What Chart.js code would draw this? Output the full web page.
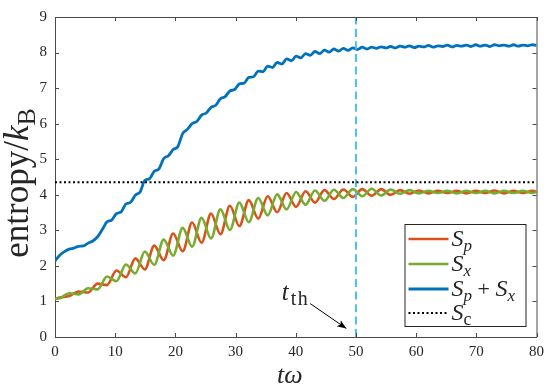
<!DOCTYPE html>
<html>
<head>
<meta charset="utf-8">
<script src="https://cdn.jsdelivr.net/npm/chart.js@4.4.1/dist/chart.umd.min.js"></script>
<style>
  html, body { margin: 0; padding: 0; background: #fff; }
  canvas { display: block; }
</style>
</head>
<body>
<canvas id="chart" width="550" height="389"></canvas>
<script>
// sample times (t*omega), quarter-period grid
const tw = [
  0, 0.79, 1.57, 2.36, 3.14, 3.93, 4.71, 5.50, 6.28, 7.07,
  7.85, 8.64, 9.42, 10.21, 11.00, 11.78, 12.57, 13.35, 14.14, 14.92,
  15.71, 16.49, 17.28, 18.06, 18.85, 19.63, 20.42, 21.21, 21.99, 22.78,
  23.56, 24.35, 25.13, 25.92, 26.70, 27.49, 28.27, 29.06, 29.85, 30.63,
  31.42, 32.20, 32.99, 33.77, 34.56, 35.34, 36.13, 36.91, 37.70, 38.48,
  39.27, 40.06, 40.84, 41.63, 42.41, 43.20, 43.98, 44.77, 45.55, 46.34,
  47.12, 47.91, 48.69, 49.48, 50.27, 51.05, 51.84, 52.62, 53.41, 54.19,
  54.98, 55.76, 56.55, 57.33, 58.12, 58.90, 59.69, 60.48, 61.26, 62.05,
  62.83, 63.62, 64.40, 65.19, 65.97, 66.76, 67.54, 68.33, 69.12, 69.90,
  70.69, 71.47, 72.26, 73.04, 73.83, 74.61, 75.40, 76.18, 76.97, 77.75,
  78.54, 79.33, 80
];

// S_p + S_x on the full grid
const sumS = [
  2.14, 2.30, 2.40, 2.47, 2.50, 2.55, 2.56, 2.64, 2.70, 2.82,
  3.02, 3.24, 3.29, 3.47, 3.52, 3.74, 3.79, 3.99, 4.08, 4.40,
  4.45, 4.66, 4.73, 5.02, 5.10, 5.27, 5.36, 5.72, 5.84, 6.00,
  6.06, 6.24, 6.30, 6.46, 6.52, 6.70, 6.76, 6.92, 6.96, 7.12,
  7.14, 7.30, 7.32, 7.48, 7.46, 7.62, 7.58, 7.72, 7.68, 7.82,
  7.77, 7.90, 7.85, 7.97, 7.92, 8.03, 7.97, 8.07, 8.01, 8.10,
  8.04, 8.12, 8.06, 8.13, 8.09, 8.15, 8.10, 8.15, 8.12, 8.16,
  8.13, 8.17, 8.13, 8.18, 8.15, 8.19, 8.14, 8.18, 8.16, 8.20,
  8.15, 8.19, 8.17, 8.21, 8.16, 8.20, 8.18, 8.21, 8.17, 8.22,
  8.18, 8.21, 8.17, 8.22, 8.19, 8.21, 8.18, 8.22, 8.18, 8.21,
  8.19, 8.22, 8.20
];

// S_p and S_x at their turning points (first point, odd grid points, last point)
const Sp = [
  1.07, 1.11, 1.15, 1.28, 1.25, 1.50, 1.46, 1.87, 1.68, 2.21,
  1.90, 2.57, 2.16, 2.91, 2.41, 3.22, 2.65, 3.47, 2.89, 3.69,
  3.12, 3.85, 3.33, 3.96, 3.51, 4.05, 3.66, 4.10, 3.78, 4.13,
  3.88, 4.15, 3.94, 4.16, 3.97, 4.16, 4.00, 4.13, 4.03, 4.12,
  4.04, 4.11, 4.05, 4.11, 4.04, 4.11, 4.05, 4.12, 4.04, 4.11,
  4.05, 4.11, 4.08
];
const Sx = [
  1.07, 1.09, 1.23, 1.20, 1.37, 1.34, 1.70, 1.57, 2.04, 1.79,
  2.40, 2.03, 2.74, 2.29, 3.07, 2.54, 3.35, 2.77, 3.59, 3.01,
  3.78, 3.23, 3.91, 3.42, 4.01, 3.59, 4.08, 3.72, 4.12, 3.83,
  4.14, 3.91, 4.16, 3.96, 4.17, 3.98, 4.15, 4.03, 4.13, 4.04,
  4.11, 4.05, 4.11, 4.04, 4.11, 4.05, 4.11, 4.04, 4.11, 4.05,
  4.11, 4.05, 4.08
];

const Sc = 4.35;     // dotted reference level
const tTh = 50;      // thermalisation time
const xMax = 80;
const yMax = 9;

const tSwing = tw.filter((t, i) => i === 0 || i % 2 === 1 || i === tw.length - 1);
const pts = (xs, ys) => xs.map((x, i) => ({ x: x, y: ys[i] }));

const axisColor = '#4a4a4a';
const textColor = '#262626';
const serif = '"Liberation Serif", "DejaVu Serif", serif';

function fontOf(p) {
  return (p.it ? 'italic ' : '') + p.size + 'px ' + serif;
}
function setPart(ctx, p) {
  ctx.font = fontOf(p);
  ctx.letterSpacing = (p.ls || 0) + 'px';
}
function widthOf(ctx, parts) {
  let w = 0;
  for (const p of parts) { setPart(ctx, p); w += ctx.measureText(p.t).width; }
  ctx.letterSpacing = '0px';
  return w;
}
function drawParts(ctx, parts, x, y) {
  let cx = x;
  for (const p of parts) {
    setPart(ctx, p);
    ctx.fillText(p.t, cx, y + (p.dy || 0));
    cx += ctx.measureText(p.t).width;
  }
  ctx.letterSpacing = '0px';
}

const legendRows = [
  [{ t: 'S', it: true, size: 24 }, { t: 'p', it: true, size: 17, dy: 5 }],
  [{ t: 'S', it: true, size: 24 }, { t: 'x', it: true, size: 17, dy: 5 }],
  [{ t: 'S', it: true, size: 24 }, { t: 'p', it: true, size: 17, dy: 5 }, { t: ' + ', size: 22 },
   { t: 'S', it: true, size: 24 }, { t: 'x', it: true, size: 17, dy: 5 }],
  [{ t: 'S', it: true, size: 24 }, { t: 'c', size: 18, dy: 5 }]
];

const decor = {
  id: 'decor',
  afterDraw(chart) {
    const { ctx, chartArea: a, scales: { x, y } } = chart;
    ctx.save();

    // box and inward ticks
    ctx.strokeStyle = axisColor;
    ctx.lineWidth = 1;
    ctx.beginPath();
    ctx.moveTo(a.left, a.top + 0.5); ctx.lineTo(a.right + 0.5, a.top + 0.5);
    ctx.moveTo(a.right + 0.5, a.top); ctx.lineTo(a.right + 0.5, a.bottom);
    for (const t of x.ticks) {
      const px = Math.round(x.getPixelForValue(t.value)) + 0.5;
      ctx.moveTo(px, a.bottom); ctx.lineTo(px, a.bottom - 4);
      ctx.moveTo(px, a.top); ctx.lineTo(px, a.top + 4);
    }
    for (const t of y.ticks) {
      const py = Math.round(y.getPixelForValue(t.value)) + 0.5;
      ctx.moveTo(a.left, py); ctx.lineTo(a.left + 4, py);
      ctx.moveTo(a.right, py); ctx.lineTo(a.right - 4, py);
    }
    ctx.stroke();

    ctx.fillStyle = textColor;
    ctx.textBaseline = 'alphabetic';

    // x axis title
    const xt = [{ t: 't', it: true, size: 26 }, { t: 'ω', it: true, size: 26 }];
    drawParts(ctx, xt, (a.left + a.right) / 2 - 6 - widthOf(ctx, xt) / 2, 383);

    // y axis title
    const yt = [{ t: 'entropy/', size: 35 }, { t: 'k', it: true, size: 35 }, { t: 'B', size: 26, dy: 7 }];
    ctx.save();
    ctx.translate(28, 183);
    ctx.rotate(-Math.PI / 2);
    drawParts(ctx, yt, -widthOf(ctx, yt) / 2, 0);
    ctx.restore();

    // t_th annotation with arrow
    const ax0 = x.getPixelForValue(42.4), ay0 = y.getPixelForValue(0.94);
    const ax1 = x.getPixelForValue(48.4), ay1 = y.getPixelForValue(0.24);
    const tt = [{ t: 't', it: true, size: 25, ls: 2 }, { t: 'th', size: 20, dy: 5, ls: 1.5 }];
    drawParts(ctx, tt, ax0 - widthOf(ctx, tt) - 1, ay0 - 4);
    ctx.strokeStyle = '#000';
    ctx.lineWidth = 1;
    ctx.beginPath();
    ctx.moveTo(ax0, ay0); ctx.lineTo(ax1, ay1);
    ctx.stroke();
    const ang = Math.atan2(ay1 - ay0, ax1 - ax0);
    ctx.fillStyle = '#000';
    ctx.beginPath();
    ctx.moveTo(ax1, ay1);
    ctx.lineTo(ax1 - 10 * Math.cos(ang - 0.38), ay1 - 10 * Math.sin(ang - 0.38));
    ctx.lineTo(ax1 - 7 * Math.cos(ang), ay1 - 7 * Math.sin(ang));
    ctx.lineTo(ax1 - 10 * Math.cos(ang + 0.38), ay1 - 10 * Math.sin(ang + 0.38));
    ctx.closePath();
    ctx.fill();

    // legend
    const bx = a.right - 11 - 121, by = a.bottom - 11 - 102;
    ctx.fillStyle = '#fff';
    ctx.fillRect(bx, by, 121, 102);
    ctx.strokeStyle = textColor;
    ctx.strokeRect(bx + 0.5, by + 0.5, 121, 102);
    const rowY = [15, 40, 65, 89];
    const sets = chart.data.datasets;
    legendRows.forEach((parts, i) => {
      const ds = sets[i];
      const ly = by + rowY[i];
      ctx.strokeStyle = ds.borderColor;
      ctx.lineWidth = ds.borderWidth;
      ctx.setLineDash(ds.borderDash || []);
      ctx.beginPath();
      ctx.moveTo(bx + 4, ly); ctx.lineTo(bx + 44, ly);
      ctx.stroke();
      ctx.setLineDash([]);
      ctx.fillStyle = textColor;
      drawParts(ctx, parts, bx + 47, ly + 7);
    });

    ctx.restore();
  }
};

new Chart(document.getElementById('chart'), {
  type: 'line',
  data: {
    datasets: [
      { label: 'S_p', data: pts(tSwing, Sp), borderColor: '#D95319', borderWidth: 2.6, order: 3 },
      { label: 'S_x', data: pts(tSwing, Sx), borderColor: '#77AC30', borderWidth: 2.6, order: 2 },
      { label: 'S_p + S_x', data: pts(tw, sumS), borderColor: '#0072BD', borderWidth: 2.8, order: 1 },
      { label: 'S_c', data: [{ x: 0, y: Sc }, { x: xMax, y: Sc }], borderColor: '#000', borderWidth: 2, borderDash: [2, 2.5], order: 0 },
      { label: 't_th', data: [{ x: tTh, y: 0 }, { x: tTh, y: yMax }], borderColor: '#4DBEEE', borderWidth: 2, borderDash: [8, 4.5], order: 0 }
    ]
  },
  options: {
    responsive: false,
    animation: false,
    devicePixelRatio: 1,
    layout: { padding: { top: 10, right: 12, left: 0, bottom: 0 } },
    elements: {
      point: { radius: 0 },
      line: { cubicInterpolationMode: 'monotone', fill: false }
    },
    plugins: { legend: { display: false }, tooltip: { enabled: false } },
    scales: {
      x: {
        type: 'linear', min: 0, max: xMax,
        ticks: { stepSize: 10, color: textColor, padding: 6, maxRotation: 0, font: { family: serif, size: 15 } },
        grid: { drawOnChartArea: false, drawTicks: false },
        border: { color: axisColor, width: 1 },
        afterFit(s) { s.height = 52; }
      },
      y: {
        type: 'linear', min: 0, max: yMax,
        ticks: { stepSize: 1, color: textColor, padding: 8, font: { family: serif, size: 15 } },
        grid: { drawOnChartArea: false, drawTicks: false },
        border: { color: axisColor, width: 1 },
        afterFit(s) { s.width = 55; }
      }
    }
  },
  plugins: [decor]
});
</script>
</body>
</html>
